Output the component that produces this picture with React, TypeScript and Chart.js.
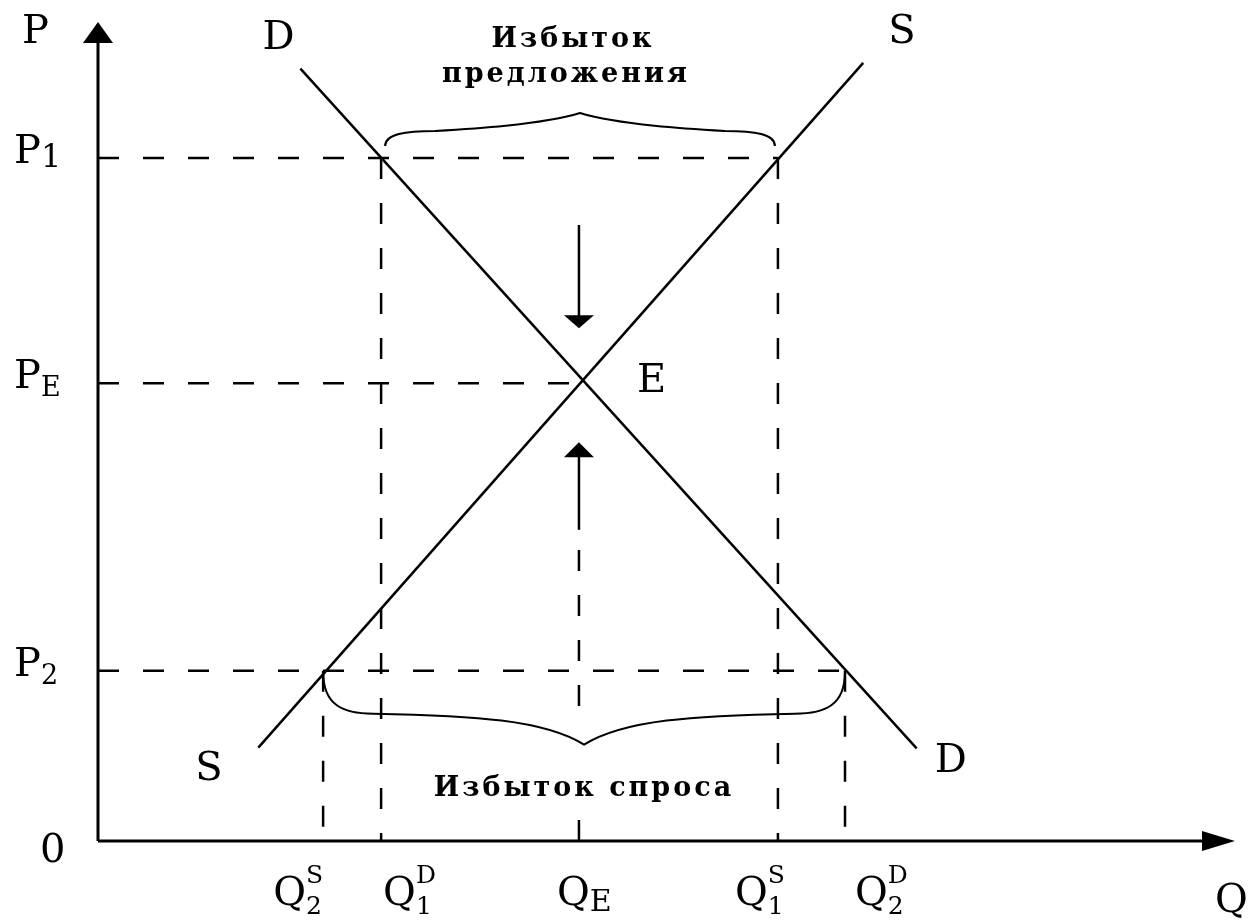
import { useEffect, useRef } from "react";
import { Chart, registerables } from "chart.js";

Chart.register(...registerables);

// ---- Data (chart units, axes run 0..100) ----
const quantityNames = ["Q2S", "Q1D", "QE", "Q1S", "Q2D"];
const quantityValues = [19.8, 24.9, 42.3, 59.8, 65.7]; // Q2S, Q1D, QE, Q1S, Q2D
const priceNames = ["P1", "PE", "P2"];
const priceValues = [83.4, 55.9, 20.8]; // P1, PE, P2

const demandQ = [17.8, 72.0];
const demandP = [94.3, 11.3];
const supplyQ = [14.1, 67.3];
const supplyP = [11.4, 95.0];

// price-pressure arrows at QE (start, tip)
const downArrowP = [75.2, 62.6];
const upArrowP = [38.0, 48.7];
const qeGuideTop = 36.1;

const [Q2S, Q1D, QE, Q1S, Q2D] = quantityValues;
const [P1, PE, P2] = priceValues;

const seg = (x1: number, y1: number, x2: number, y2: number) => [
  { x: x1, y: y1 },
  { x: x2, y: y2 },
];

const SERIF = '"DejaVu Serif", "Liberation Serif", serif';

function arrowHead(ctx: CanvasRenderingContext2D, tx: number, ty: number, dx: number, dy: number, len: number, half: number) {
  const bx = tx - dx * len;
  const by = ty - dy * len;
  const px = -dy;
  const py = dx;
  ctx.beginPath();
  ctx.moveTo(tx, ty);
  ctx.lineTo(bx + px * half, by + py * half);
  ctx.lineTo(bx - px * half, by - py * half);
  ctx.closePath();
  ctx.fill();
}

function brace(ctx: CanvasRenderingContext2D, x1: number, x2: number, y0: number, s: number, a: number, b: number) {
  const mid = (x1 + x2) / 2;
  const w = 50;
  ctx.beginPath();
  ctx.moveTo(x1, y0);
  ctx.bezierCurveTo(x1, y0 + s * a * 0.8, x1 + w * 0.4, y0 + s * a, x1 + w, y0 + s * a);
  ctx.bezierCurveTo(mid - 110, y0 + s * (a + 2), mid - 40, y0 + s * (a + 6), mid, y0 + s * b);
  ctx.bezierCurveTo(mid + 40, y0 + s * (a + 6), mid + 110, y0 + s * (a + 2), x2 - w, y0 + s * a);
  ctx.bezierCurveTo(x2 - w * 0.4, y0 + s * a, x2, y0 + s * a * 0.8, x2, y0);
  ctx.stroke();
}

function label(
  ctx: CanvasRenderingContext2D,
  x: number,
  y: number,
  main: string,
  sub?: string,
  sup?: string,
  small = 26,
  subDrop = 8
) {
  ctx.font = `40px ${SERIF}`;
  ctx.fillText(main, x, y);
  const w = ctx.measureText(main).width;
  ctx.font = `${small}px ${SERIF}`;
  if (sub) ctx.fillText(sub, x + w, y + subDrop);
  if (sup) ctx.fillText(sup, x + w, y - 22);
}

const annotations = {
  id: "annotations",
  afterDatasetsDraw(chart: any) {
    const ctx: CanvasRenderingContext2D = chart.ctx;
    const xs = chart.scales.x;
    const ys = chart.scales.y;
    const X = (v: number) => xs.getPixelForValue(v);
    const Y = (v: number) => ys.getPixelForValue(v);
    ctx.save();
    ctx.fillStyle = "#000";
    ctx.strokeStyle = "#000";

    // axes
    const ox = X(0), oy = Y(0);
    ctx.lineWidth = 3;
    ctx.beginPath();
    ctx.moveTo(ox, oy);
    ctx.lineTo(ox, Y(100) + 15);
    ctx.moveTo(ox, oy);
    ctx.lineTo(X(100) - 25, oy);
    ctx.stroke();
    arrowHead(ctx, ox, Y(100), 0, -1, 21, 15);
    arrowHead(ctx, X(100), oy, 1, 0, 33, 10);

    // arrow heads on price-pressure arrows
    arrowHead(ctx, X(QE), Y(downArrowP[1]), 0, 1, 13, 15);
    arrowHead(ctx, X(QE), Y(upArrowP[1]), 0, -1, 15, 15);

    // region text for excess demand (on a white box that hides the QE guide)
    ctx.textAlign = "center";
    ctx.textBaseline = "alphabetic";
    ctx.fillStyle = "#fff";
    ctx.fillRect(X(QE) - 155, Y(P2) + 42, 310, 98);
    ctx.fillStyle = "#000";
    ctx.font = `bold 27px ${SERIF}`;
    (ctx as any).letterSpacing = "3px";
    ctx.fillText("Избыток спроса", X(QE) + 5, Y(P2) + 125);
    ctx.fillText("Избыток", X(QE) - 6, Y(P1) - 111);
    ctx.fillText("предложения", X(QE) - 13, Y(P1) - 76);
    (ctx as any).letterSpacing = "0px";

    // braces
    ctx.lineWidth = 2;
    brace(ctx, X(Q1D) + 4, X(Q1S) - 3, Y(P1) - 12, -1, 15, 33);
    brace(ctx, X(Q2S), X(Q2D), Y(P2) + 1, 1, 42, 73);

    // axis labels
    ctx.textAlign = "left";
    label(ctx, ox - 76, Y(100) + 21, "P");
    label(ctx, ox - 58, oy + 21, "0");
    label(ctx, X(100) - 20, oy + 71, "Q");

    // price labels
    priceValues.forEach((v, i) => {
      const n = priceNames[i];
      label(ctx, ox - 84, Y(v) + 5, n[0], n.slice(1), undefined, n[1] === "1" ? 32 : 27, n[1] === "1" ? 4 : 8);
    });

    // quantity labels
    const qOffsets = [-50, 2, -22, -43, 10];
    quantityValues.forEach((v, i) => {
      const n = quantityNames[i];
      const base = n.slice(0, 1);
      const sub = n.slice(1, 2);
      const sup = n.slice(2);
      label(ctx, X(v) + qOffsets[i], oy + 64, base, sub, sup || undefined, sub === "E" ? 30 : 25, sub === "E" ? 6 : 9);
    });

    // curve labels
    label(ctx, X(demandQ[0]) - 38, Y(demandP[0]) - 20, "D");
    label(ctx, X(demandQ[1]) + 18, Y(demandP[1]) + 24, "D");
    label(ctx, X(supplyQ[1]) + 25, Y(supplyP[1]) - 20, "S");
    label(ctx, X(supplyQ[0]) - 63, Y(supplyP[0]) + 32, "S");
    label(ctx, X(QE) + 58, Y(PE) + 9, "E");
    ctx.restore();
  },
};

export default function App() {
  const ref = useRef<HTMLCanvasElement | null>(null);
  useEffect(() => {
    document.body.style.margin = "0";
    const solid = { borderColor: "#000", borderWidth: 2.5, pointRadius: 0, showLine: true, clip: false as any, fill: false };
    const dashed = { ...solid, borderWidth: 2.5, borderDash: [21, 24] };
    const chart = new Chart(ref.current!, {
      type: "scatter",
      data: {
        datasets: [
          { ...solid, label: "D", data: seg(demandQ[0], demandP[0], demandQ[1], demandP[1]) },
          { ...solid, label: "S", data: seg(supplyQ[0], supplyP[0], supplyQ[1], supplyP[1]) },
          { ...dashed, label: "P1", data: seg(0, P1, Q1S, P1) },
          { ...dashed, label: "PE", data: seg(0, PE, QE, PE) },
          { ...dashed, label: "P2", data: seg(0, P2, Q2D, P2) },
          { ...dashed, label: "Q2S", data: seg(Q2S, P2, Q2S, 0) },
          { ...dashed, label: "Q1D", data: seg(Q1D, P1, Q1D, 0) },
          { ...dashed, label: "Q1S", data: seg(Q1S, P1, Q1S, 0) },
          { ...dashed, label: "Q2D", data: seg(Q2D, P2, Q2D, 0) },
          { ...dashed, label: "QE", data: seg(QE, 0, QE, qeGuideTop) },
          { ...solid, label: "down", data: seg(QE, downArrowP[0], QE, downArrowP[1] + 1) },
          { ...solid, label: "up", data: seg(QE, upArrowP[0], QE, upArrowP[1] - 1) },
        ],
      },
      options: {
        animation: false,
        responsive: false,
        devicePixelRatio: 1,
        layout: { padding: { left: 98, right: 17, top: 22, bottom: 81 } },
        scales: {
          x: { type: "linear", min: 0, max: 100, display: false },
          y: { type: "linear", min: 0, max: 100, display: false },
        },
        plugins: { legend: { display: false }, tooltip: { enabled: false } },
        events: [],
      },
      plugins: [annotations],
    });
    return () => chart.destroy();
  }, []);
  return (
    <div style={{ position: "fixed", left: 0, top: 0, width: 1252, height: 922, background: "#fff" }}>
      <canvas ref={ref} width={1252} height={922} />
    </div>
  );
}
